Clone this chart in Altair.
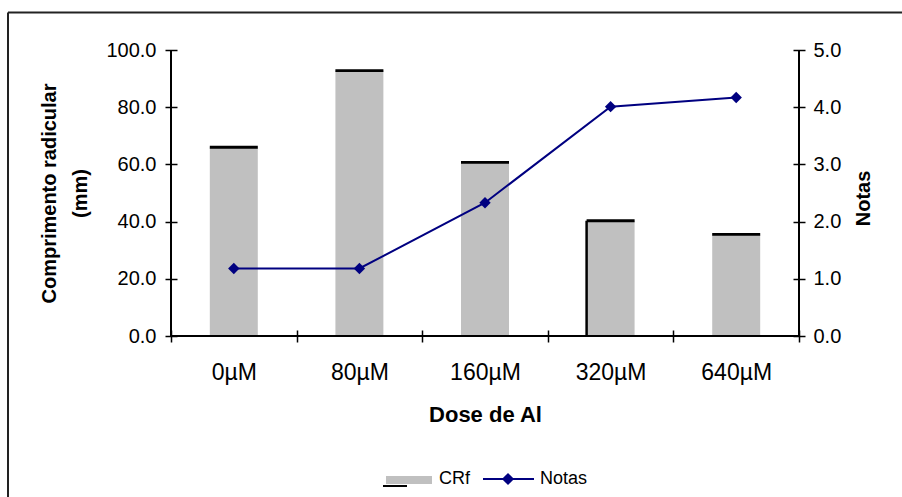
import altair as alt
import pandas as pd

# Root length (CRf, mm) and scores (Notas) per aluminium dose
doses = ["0µM", "80µM", "160µM", "320µM", "640µM"]
crf = [66.0, 92.8, 60.7, 40.3, 35.5]
notas = [1.18, 1.18, 2.33, 4.01, 4.17]
crf_ticks = [0, 20, 40, 60, 80, 100]
notas_ticks = [0, 1, 2, 3, 4, 5]

W, H = 628, 286
FONT = "Liberation Sans"
BAR_GREY = "#C0C0C0"
NAVY = "#000080"

df = pd.DataFrame({"dose": doses, "crf": crf, "notas": notas})
one = pd.DataFrame({"k": [0]})

x_enc = alt.X(
    "dose:N",
    sort=doses,
    scale=alt.Scale(paddingInner=0, paddingOuter=0),
    axis=alt.Axis(
        title="Dose de Al",
        tickBand="extent",
        offset=-6,
        tickSize=12,
        tickWidth=1.5,
        tickColor="black",
        domain=False,
        labelAngle=0,
        labelPadding=19,
        labelFontSize=23,
        labelColor="black",
        labelFont=FONT,
        titleFont=FONT,
        titleFontSize=22,
        titleFontWeight="bold",
        titleColor="black",
        titleBaseline="alphabetic",
        titleY=91,
    ),
)

y_crf = alt.Y(
    "crf:Q",
    scale=alt.Scale(domain=[0, 100], nice=False, zero=True),
    axis=alt.Axis(
        values=crf_ticks,
        format=".1f",
        orient="left",
        offset=-6,
        tickSize=12,
        tickWidth=1.5,
        tickColor="black",
        domain=False,
        grid=False,
        labelPadding=9,
        labelFontSize=20,
        labelColor="black",
        labelFont=FONT,
        title=["Comprimento radicular", "(mm)"],
        titleFont=FONT,
        titleFontSize=20,
        titleFontWeight="bold",
        titleColor="black",
        titleAngle=270,
        titleAlign="center",
        titleBaseline="alphabetic",
        titleLineHeight=31,
        titleX=-122,
        titleY=143,
    ),
)

y_notas = alt.Y(
    "notas:Q",
    scale=alt.Scale(domain=[0, 5], nice=False, zero=True),
    axis=alt.Axis(
        values=notas_ticks,
        format=".1f",
        orient="right",
        offset=-6,
        tickSize=12,
        tickWidth=1.5,
        tickColor="black",
        domain=False,
        grid=False,
        labelPadding=8,
        labelFontSize=20,
        labelColor="black",
        labelFont=FONT,
        title="Notas",
        titleFont=FONT,
        titleFontSize=20,
        titleFontWeight="bold",
        titleColor="black",
        titleAngle=270,
        titleAlign="center",
        titleBaseline="alphabetic",
        titleX=76,
        titleY=148,
    ),
)

base = alt.Chart(df)

bars = base.mark_bar(color=BAR_GREY, width=alt.RelativeBandSize(0.382)).encode(x=x_enc, y=y_crf)
caps = base.mark_tick(color="black", size=48, thickness=2.8, orient="horizontal", opacity=1).encode(
    x=x_enc, y=y_crf
)
edge = (
    base.transform_filter(alt.datum.dose == "320µM")
    .mark_rule(color="black", strokeWidth=2.5, xOffset=-24, opacity=1)
    .encode(x=x_enc, y=y_crf, y2=alt.datum(0))
)

left_layer = alt.layer(bars, caps, edge)

line = base.mark_line(color=NAVY, strokeWidth=2).encode(x=x_enc, y=y_notas)
pts = base.mark_point(shape="diamond", filled=True, color=NAVY, size=130, opacity=1).encode(x=x_enc, y=y_notas)
right_layer = alt.layer(line, pts)

# axis lines and outer frame
dec = alt.Chart(one)
rule_style = dict(color="black", strokeWidth=2)
axis_lines = alt.layer(
    dec.mark_rule(**rule_style).encode(x=alt.value(0), y=alt.value(0), y2=alt.value(H)),
    dec.mark_rule(**rule_style).encode(x=alt.value(W), y=alt.value(0), y2=alt.value(H)),
    dec.mark_rule(**rule_style).encode(x=alt.value(0), x2=alt.value(W), y=alt.value(H)),
    dec.mark_rule(color="#222222", strokeWidth=2).encode(x=alt.value(-163), x2=alt.value(760), y=alt.value(-37.5)),
    dec.mark_rule(color="#222222", strokeWidth=2).encode(x=alt.value(-163), y=alt.value(-37.5), y2=alt.value(470)),
)

# legend
legend = alt.layer(
    dec.mark_rect(color=BAR_GREY).encode(x=alt.value(215), x2=alt.value(261), y=alt.value(426), y2=alt.value(434)),
    dec.mark_rule(color="black", strokeWidth=2).encode(x=alt.value(212), x2=alt.value(236), y=alt.value(436)),
    dec.mark_text(text="CRf", align="left", baseline="middle", fontSize=18, font=FONT, color="black").encode(
        x=alt.value(268), y=alt.value(429)
    ),
    dec.mark_rule(color=NAVY, strokeWidth=2).encode(x=alt.value(312), x2=alt.value(363), y=alt.value(429)),
    dec.mark_point(shape="diamond", filled=True, color=NAVY, size=150, opacity=1).encode(
        x=alt.value(337), y=alt.value(429)
    ),
    dec.mark_text(text="Notas", align="left", baseline="middle", fontSize=18, font=FONT, color="black").encode(
        x=alt.value(369), y=alt.value(429)
    ),
)

chart = (
    alt.layer(left_layer, right_layer, axis_lines, legend)
    .resolve_scale(y="independent")
    .properties(
        width=W,
        height=H,
        autosize=alt.AutoSizeParams(type="none"),
        padding={"left": 171, "top": 50, "right": 103, "bottom": 161},
        background="white",
    )
    .configure_view(stroke=None)
)

chart.save("out.html", embed_options={"renderer": "svg", "actions": False})
